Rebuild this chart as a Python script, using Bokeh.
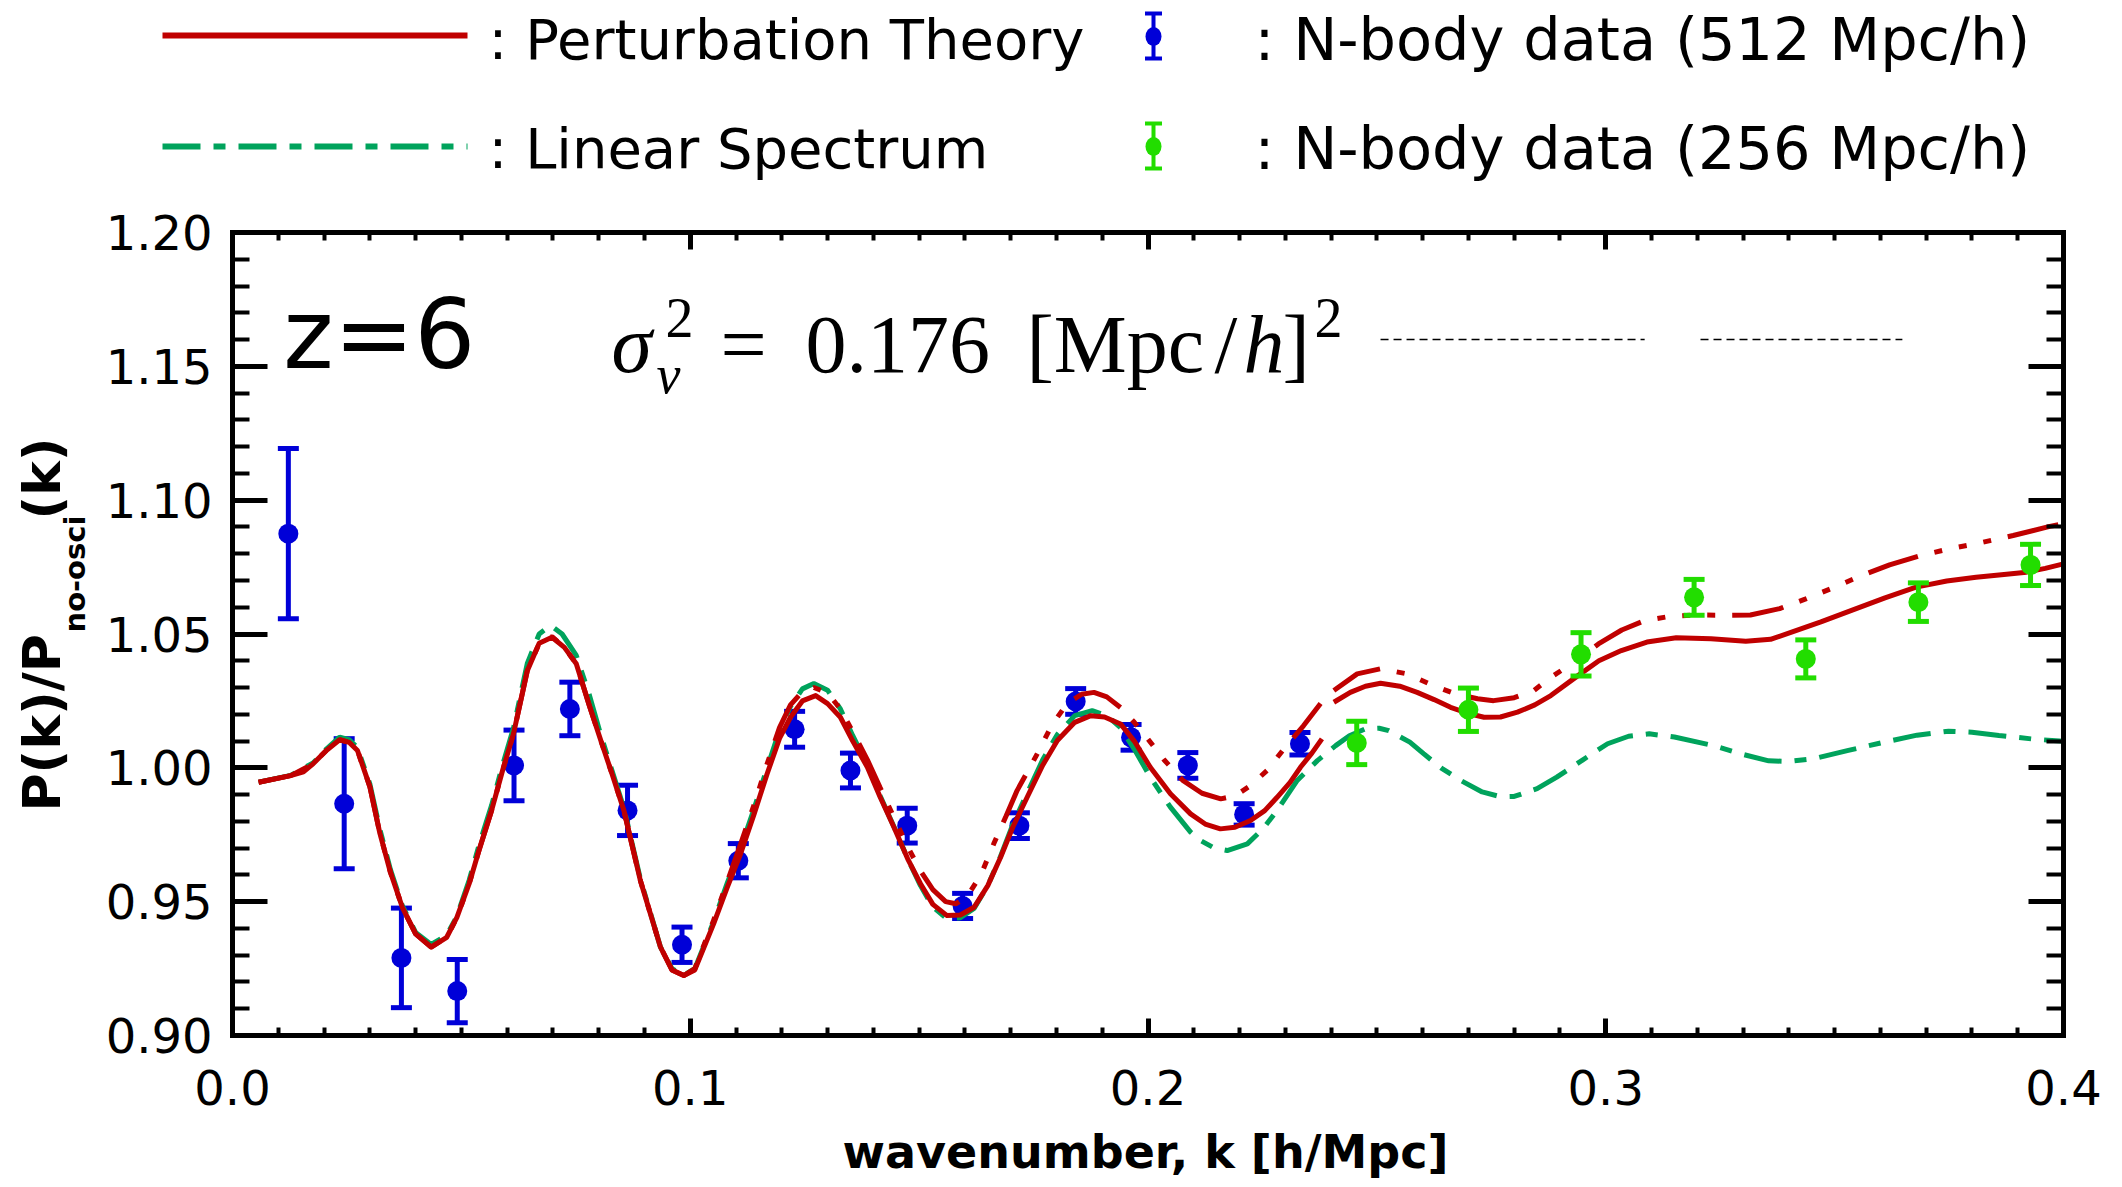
import math
from bokeh.plotting import figure
from bokeh.models import Range1d, LinearAxis, FixedTicker, Label, PrintfTickFormatter, CustomJSTickFormatter
from bokeh.layouts import column, row
from bokeh.core.properties import value
from bokeh.embed import file_html
from bokeh.resources import INLINE

# ---------------- data ----------------
# N-body 512 Mpc/h
k512 = [0.0122, 0.0244, 0.0369, 0.0491, 0.0615, 0.0737, 0.0863, 0.0982, 0.1105, 0.1228,
        0.1350, 0.1474, 0.1595, 0.1719, 0.1842, 0.1963, 0.2087, 0.2210, 0.2332]
r512 = [1.0875, 0.9866, 0.9290, 0.9166, 1.0009, 1.0220, 0.9841, 0.9339, 0.9653, 1.0144,
        0.9990, 0.9784, 0.9484, 0.9784, 1.0248, 1.0114, 1.0009, 0.9826, 1.0090]
e512 = [0.0318, 0.0243, 0.0186, 0.0118, 0.0132, 0.0100, 0.0094, 0.0066, 0.0064, 0.0067,
        0.0065, 0.0065, 0.0047, 0.0048, 0.0048, 0.0048, 0.0048, 0.0040, 0.0042]

# N-body 256 Mpc/h
k256 = [0.2456, 0.2700, 0.2946, 0.3193, 0.3437, 0.3683, 0.3928]
r256 = [1.0093, 1.0217, 1.0424, 1.0637, 1.0407, 1.0619, 1.0758]
e256 = [0.0081, 0.0081, 0.0081, 0.0067, 0.0071, 0.0072, 0.0077]

# Perturbation theory (solid), 512 box part and 256 box part
k_pt_a = [0.0057, 0.0127, 0.0155, 0.0176, 0.0205, 0.0234, 0.0255, 0.0273, 0.0300, 0.0322,
          0.0345, 0.0371, 0.0400, 0.0434, 0.0468, 0.0490, 0.0517, 0.0540, 0.0566, 0.0590,
          0.0614, 0.0644, 0.0670, 0.0698, 0.0725, 0.0751, 0.0780, 0.0805, 0.0829, 0.0855,
          0.0891, 0.0935, 0.0960, 0.0986, 0.1010, 0.1051, 0.1081, 0.1110, 0.1140, 0.1168,
          0.1195, 0.1219, 0.1245, 0.1274, 0.1300, 0.1328, 0.1355, 0.1387, 0.1415, 0.1445,
          0.1475, 0.1503, 0.1530, 0.1561, 0.1590, 0.1620, 0.1650, 0.1678, 0.1705, 0.1736,
          0.1770, 0.1802, 0.1840, 0.1875, 0.1905, 0.1940, 0.1970, 0.2005, 0.2049, 0.2093,
          0.2125, 0.2158, 0.2190, 0.2224, 0.2255, 0.2282, 0.2310, 0.2333, 0.2358, 0.2380]
pt_a = [0.9946, 0.9971, 0.9985, 1.0015, 1.0065, 1.0105, 1.0095, 1.0065, 0.9930, 0.9755,
        0.9610, 0.9479, 0.9380, 0.9330, 0.9367, 0.9440, 0.9567, 0.9700, 0.9841, 0.9990,
        1.0128, 1.0363, 1.0465, 1.0488, 1.0450, 1.0389, 1.0230, 1.0100, 0.9978, 0.9841,
        0.9579, 0.9330, 0.9245, 0.9224, 0.9245, 0.9417, 0.9554, 0.9679, 0.9830, 0.9978,
        1.0110, 1.0189, 1.0250, 1.0270, 1.0240, 1.0189, 1.0100, 1.0002, 0.9890, 0.9778,
        0.9660, 0.9567, 0.9490, 0.9448, 0.9450, 0.9479, 0.9560, 0.9666, 0.9780, 0.9890,
        1.0010, 1.0102, 1.0170, 1.0195, 1.0190, 1.0164, 1.0100, 1.0002, 0.9903, 0.9828,
        0.9790, 0.9772, 0.9778, 0.9803, 0.9840, 0.9890, 0.9945, 1.0002, 1.0055, 1.0108]
k_pt_b = [0.2406, 0.2442, 0.2475, 0.2508, 0.2550, 0.2588, 0.2625, 0.2661, 0.2700, 0.2734,
          0.2770, 0.2807, 0.2845, 0.2880, 0.2934, 0.2985, 0.3034, 0.3090, 0.3154, 0.3230,
          0.3306, 0.3360, 0.3406, 0.3470, 0.3537, 0.3610, 0.3678, 0.3745, 0.3809, 0.3870,
          0.3919, 0.3960, 0.4000]
pt_b = [1.0245, 1.0282, 1.0305, 1.0316, 1.0305, 1.0282, 1.0255, 1.0226, 1.0203, 1.0189,
        1.0190, 1.0208, 1.0235, 1.0270, 1.0338, 1.0400, 1.0438, 1.0470, 1.0486, 1.0482,
        1.0473, 1.0480, 1.0507, 1.0545, 1.0588, 1.0635, 1.0675, 1.0698, 1.0712, 1.0722,
        1.0731, 1.0745, 1.0762]

# second perturbation-theory curve (dash-dot-dot-dot, red)
k_pt2_a = [0.0057, 0.0127, 0.0176, 0.0205, 0.0234, 0.0255, 0.0273, 0.0300, 0.0322, 0.0345,
           0.0371, 0.0400, 0.0434, 0.0468, 0.0490, 0.0517, 0.0540, 0.0566, 0.0590, 0.0614,
           0.0644, 0.0670, 0.0698, 0.0725, 0.0751, 0.0780, 0.0805, 0.0829, 0.0855, 0.0891,
           0.0935, 0.0960, 0.0986, 0.1010, 0.1051, 0.1081, 0.1110, 0.1140, 0.1168, 0.1195,
           0.1219, 0.1245, 0.1270, 0.1300, 0.1328, 0.1355, 0.1387, 0.1415, 0.1445, 0.1475,
           0.1503, 0.1530, 0.1558, 0.1580, 0.1605, 0.1635, 0.1663, 0.1690, 0.1714, 0.1758,
           0.1790, 0.1823, 0.1855, 0.1882, 0.1910, 0.1940, 0.1970, 0.1997, 0.2035, 0.2076,
           0.2118, 0.2159, 0.2190, 0.2224, 0.2260, 0.2297, 0.2340, 0.2377]
pt2_a = [0.9946, 0.9971, 1.0015, 1.0065, 1.0105, 1.0095, 1.0065, 0.9930, 0.9755, 0.9610,
         0.9479, 0.9380, 0.9330, 0.9367, 0.9440, 0.9567, 0.9700, 0.9841, 0.9990, 1.0128,
         1.0363, 1.0465, 1.0490, 1.0450, 1.0389, 1.0230, 1.0100, 0.9978, 0.9841, 0.9579,
         0.9330, 0.9245, 0.9224, 0.9250, 0.9430, 0.9575, 0.9715, 0.9865, 1.0015, 1.0150,
         1.0235, 1.0285, 1.0300, 1.0280, 1.0220, 1.0135, 1.0030, 0.9925, 0.9815, 0.9705,
         0.9615, 0.9545, 0.9500, 0.9492, 0.9520, 0.9600, 0.9716, 0.9820, 0.9915, 1.0052,
         1.0160, 1.0239, 1.0275, 1.0282, 1.0265, 1.0225, 1.0170, 1.0114, 1.0030, 0.9953,
         0.9905, 0.9884, 0.9895, 0.9934, 0.9990, 1.0071, 1.0158, 1.0240]
k_pt2_b = [0.2406, 0.2457, 0.2508, 0.2566, 0.2624, 0.2672, 0.2720, 0.2755, 0.2800, 0.2843,
           0.2880, 0.2935, 0.2984, 0.3035, 0.3085, 0.3140, 0.3195, 0.3260, 0.3316, 0.3380,
           0.3437, 0.3500, 0.3558, 0.3620, 0.3688, 0.3750, 0.3809, 0.3890, 0.3970, 0.4000]
pt2_b = [1.0289, 1.0351, 1.0370, 1.0351, 1.0307, 1.0276, 1.0258, 1.0251, 1.0262, 1.0289,
         1.0338, 1.0400, 1.0463, 1.0515, 1.0550, 1.0566, 1.0571, 1.0570, 1.0571, 1.0595,
         1.0631, 1.0675, 1.0718, 1.0758, 1.0793, 1.0818, 1.0837, 1.0868, 1.0902, 1.0912]

# Linear spectrum (green dash-dot)
k_lin = [0.0057, 0.0127, 0.0176, 0.0205, 0.0234, 0.0255, 0.0273, 0.0300, 0.0322, 0.0345,
         0.0371, 0.0400, 0.0434, 0.0468, 0.0490, 0.0517, 0.0540, 0.0566, 0.0590, 0.0614,
         0.0644, 0.0670, 0.0695, 0.0720, 0.0751, 0.0780, 0.0805, 0.0829, 0.0855, 0.0891,
         0.0935, 0.0960, 0.0986, 0.1010, 0.1051, 0.1081, 0.1110, 0.1140, 0.1168, 0.1195,
         0.1219, 0.1245, 0.1270, 0.1300, 0.1328, 0.1355, 0.1387, 0.1415, 0.1445, 0.1475,
         0.1503, 0.1530, 0.1561, 0.1590, 0.1620, 0.1650, 0.1678, 0.1705, 0.1736, 0.1770,
         0.1802, 0.1840, 0.1878, 0.1910, 0.1940, 0.1970, 0.2005, 0.2049, 0.2093, 0.2115,
         0.2145, 0.2173, 0.2217, 0.2250, 0.2282, 0.2326, 0.2370, 0.2410, 0.2440, 0.2475,
         0.2505, 0.2526, 0.2572, 0.2602, 0.2640, 0.2683, 0.2730, 0.2770, 0.2800, 0.2850,
         0.2893, 0.2950, 0.3004, 0.3050, 0.3095, 0.3150, 0.3235, 0.3300, 0.3356, 0.3400,
         0.3457, 0.3530, 0.3608, 0.3680, 0.3749, 0.3800, 0.3859, 0.3930, 0.4000]
lin = [0.9946, 0.9972, 1.0018, 1.0070, 1.0115, 1.0105, 1.0075, 0.9940, 0.9770, 0.9620,
       0.9485, 0.9385, 0.9340, 0.9375, 0.9445, 0.9580, 0.9720, 0.9860, 1.0010, 1.0150,
       1.0390, 1.0500, 1.0532, 1.0500, 1.0420, 1.0270, 1.0120, 0.9990, 0.9850, 0.9585,
       0.9330, 0.9250, 0.9225, 0.9250, 0.9425, 0.9570, 0.9700, 0.9850, 1.0000, 1.0140,
       1.0230, 1.0295, 1.0315, 1.0290, 1.0220, 1.0120, 1.0010, 0.9895, 0.9780, 0.9660,
       0.9560, 0.9480, 0.9436, 0.9440, 0.9475, 0.9560, 0.9670, 0.9790, 0.9905, 1.0030,
       1.0125, 1.0195, 1.0214, 1.0195, 1.0150, 1.0070, 0.9965, 0.9853, 0.9760, 0.9728,
       0.9700, 0.9691, 0.9716, 0.9770, 0.9841, 0.9953, 1.0027, 1.0083, 1.0120, 1.0146,
       1.0148, 1.0139, 1.0096, 1.0053, 1.0000, 0.9953, 0.9910, 0.9892, 0.9893, 0.9922,
       0.9965, 1.0030, 1.0090, 1.0118, 1.0127, 1.0115, 1.0083, 1.0050, 1.0026, 1.0024,
       1.0035, 1.0065, 1.0096, 1.0122, 1.0137, 1.0133, 1.0121, 1.0108, 1.0099]

# thin black dashed strokes visible in the picture
k_guide0 = [0.2508, 0.3207]
k_guide1 = [0.3085, 0.3648]
y_guide = [1.1600, 1.1600]

x_major = [0.0, 0.1, 0.2, 0.3, 0.4]
x_minor = [round(0.01 * i, 2) for i in range(41)]
y_major = [0.90, 0.95, 1.00, 1.05, 1.10, 1.15, 1.20]
y_minor = [round(0.90 + 0.01 * i, 2) for i in range(31)]

legend_pt = [": Perturbation Theory", ": Linear Spectrum"]
legend_nb = [": N-body data (512 Mpc/h)", ": N-body data (256 Mpc/h)"]
x_title = "wavenumber, k [h/Mpc]"
y_title_parts = ["P(k)/P", "no-osci", "(k)"]

# ---------------- style ----------------
RED = "#c00000"
LGREEN = "#00a35c"
BLUE = "#0000d8"
PGREEN = "#22dd00"
FONT = "DejaVu Sans"
SERIF = "Liberation Serif"
DASHDOT = "38 13 12 13"
DASH3DOT = "52 17 8 17 8 17 8 17"

TOTAL_W = 2121
YLAB_W = 100
MAIN_W = TOTAL_W - YLAB_W
LEG_H = 200
MAIN_H = 925
XLAB_H = 61


def no_align(fig):
    try:
        fig.frame_align = False
    except Exception:
        pass


def blank(fig):
    fig.outline_line_color = None
    fig.xgrid.visible = False
    fig.ygrid.visible = False
    fig.background_fill_color = "white"
    fig.border_fill_color = "white"


# ---------------- main figure ----------------
p = figure(width=MAIN_W, height=MAIN_H, x_range=Range1d(0.0, 0.4), y_range=Range1d(0.90, 1.20),
           output_backend="svg", toolbar_location=None,
           min_border_left=132, min_border_right=58, min_border_top=32, min_border_bottom=90)
p.xgrid.visible = False
p.ygrid.visible = False
p.outline_line_color = "black"
p.outline_line_width = 5
p.background_fill_color = "white"
p.border_fill_color = "white"

xt = FixedTicker(ticks=x_major, minor_ticks=x_minor)
yt = FixedTicker(ticks=y_major, minor_ticks=y_minor)


def style(ax, major_in, minor_in, size="48px"):
    ax.axis_line_width = 5
    ax.axis_line_color = "black"
    ax.axis_line_cap = "square"
    ax.major_tick_in = major_in
    ax.major_tick_out = 0
    ax.minor_tick_in = minor_in
    ax.minor_tick_out = 0
    ax.major_tick_line_width = 5
    ax.minor_tick_line_width = 4
    ax.major_tick_line_color = "black"
    ax.minor_tick_line_color = "black"
    ax.major_label_text_font = FONT
    ax.major_label_text_font_size = size
    ax.major_label_text_color = "black"


xb = p.xaxis[0]
xb.ticker = xt
xb.formatter = PrintfTickFormatter(format="%.1f")
style(xb, 17, 8, "48px")
xb.major_label_standoff = 34

yl = p.yaxis[0]
yl.ticker = yt
yl.formatter = PrintfTickFormatter(format="%.2f")
style(yl, 35, 17)
yl.major_label_standoff = 20

xtop = LinearAxis(ticker=xt, formatter=CustomJSTickFormatter(code="return ''"))
style(xtop, 17, 8)
xtop.major_label_text_font_size = "0px"
xtop.major_label_standoff = 0
p.add_layout(xtop, "above")

yr = LinearAxis(ticker=yt, formatter=CustomJSTickFormatter(code="return ''"))
style(yr, 35, 17)
yr.major_label_text_font_size = "0px"
yr.major_label_standoff = 0
p.add_layout(yr, "right")

# error bars, 512 box
lo512 = [r - e for r, e in zip(r512, e512)]
hi512 = [r + e for r, e in zip(r512, e512)]
p.segment(x0=k512, y0=lo512, x1=k512, y1=hi512, line_color=BLUE, line_width=5)
p.rect(x=k512, y=lo512, width=21, height=5, width_units="screen", height_units="screen",
       fill_color=BLUE, line_color=None)
p.rect(x=k512, y=hi512, width=21, height=5, width_units="screen", height_units="screen",
       fill_color=BLUE, line_color=None)
p.scatter(x=k512, y=r512, size=20, marker="circle", fill_color=BLUE, line_color=None)

# curves
p.line(k_lin, lin, line_color=LGREEN, line_width=5, line_dash=DASHDOT)
p.line(k_pt2_a, pt2_a, line_color=RED, line_width=5, line_dash=DASH3DOT)
p.line(k_pt2_b, pt2_b, line_color=RED, line_width=5, line_dash=DASH3DOT)
p.line(k_pt_a, pt_a, line_color=RED, line_width=5, line_join="round")
p.line(k_pt_b, pt_b, line_color=RED, line_width=5, line_join="round")

# error bars, 256 box
lo256 = [r - e for r, e in zip(r256, e256)]
hi256 = [r + e for r, e in zip(r256, e256)]
p.segment(x0=k256, y0=lo256, x1=k256, y1=hi256, line_color=PGREEN, line_width=5)
p.rect(x=k256, y=lo256, width=21, height=5, width_units="screen", height_units="screen",
       fill_color=PGREEN, line_color=None)
p.rect(x=k256, y=hi256, width=21, height=5, width_units="screen", height_units="screen",
       fill_color=PGREEN, line_color=None)
p.scatter(x=k256, y=r256, size=20, marker="circle", fill_color=PGREEN, line_color=None)

# thin dashed strokes
p.segment(x0=k_guide0, y0=y_guide, x1=k_guide1, y1=y_guide, line_color="black",
          line_width=1.5, line_dash="8 5")

# in-frame annotations
p.add_layout(Label(x=0.0111, y=1.1617, text="z=6", text_font=FONT, text_font_size="96px",
                   text_baseline="alphabetic", text_align="left", text_color="black"))


def tex(x, y, t, size, style="normal"):
    p.add_layout(Label(x=x, y=y, text=t, text_font=SERIF, text_font_size=size,
                       text_font_style=style, text_baseline="alphabetic",
                       text_align="left", text_color="black"))


tex(0.08280, 1.15804, "σ", "82px", "italic")
tex(0.09459, 1.16809, "2", "56px")
tex(0.09263, 1.14691, "v", "54px", "italic")
tex(0.10661, 1.15804, "=", "82px")
tex(0.12518, 1.15804, "0.176", "82px")
tex(0.17346, 1.15804, "[Mpc", "82px")
tex(0.21453, 1.15804, "/", "82px")
tex(0.22085, 1.15804, "h", "82px", "italic")
tex(0.22939, 1.15804, "]", "82px")
tex(0.23637, 1.16809, "2", "56px")

# ---------------- y-title figure (left strip) ----------------
ylab = figure(width=YLAB_W, height=MAIN_H, x_range=Range1d(0, YLAB_W), y_range=Range1d(MAIN_H, 0),
              output_backend="svg", toolbar_location=None,
              x_axis_location=None, y_axis_location=None, min_border=0)
blank(ylab)
no_align(ylab)
ylab.text(x=[41, 74, 41], y=[611, 432, 319], text=y_title_parts,
          text_font=value(FONT), text_font_size=["52px", "29px", "52px"],
          text_font_style="bold", angle=math.pi / 2, text_color="black",
          text_align="left", text_baseline="alphabetic")

# ---------------- x-title figure (bottom strip) ----------------
xlab = figure(width=TOTAL_W, height=XLAB_H, x_range=Range1d(0, TOTAL_W), y_range=Range1d(XLAB_H, 0),
              output_backend="svg", toolbar_location=None,
              x_axis_location=None, y_axis_location=None, min_border=0)
blank(xlab)
no_align(xlab)
xlab.text(x=[1145], y=[26], text=[x_title], text_font=value(FONT), text_font_size=value("46px"),
          text_font_style="bold", text_color="black", text_align="center",
          text_baseline="alphabetic")

# ---------------- legend figure (top strip) ----------------
leg = figure(width=TOTAL_W, height=LEG_H, x_range=Range1d(0, TOTAL_W), y_range=Range1d(LEG_H, 0),
             output_backend="svg", toolbar_location=None,
             x_axis_location=None, y_axis_location=None, min_border=0)
blank(leg)
no_align(leg)

leg.line([162, 467], [35, 35], line_color=RED, line_width=6)
leg.line([162, 467], [146, 146], line_color=LGREEN, line_width=6, line_dash=DASHDOT)

for yc, col in [(36, BLUE), (146, PGREEN)]:
    leg.segment(x0=[1153], y0=[yc - 23], x1=[1153], y1=[yc + 22], line_color=col, line_width=4)
    leg.rect(x=[1153, 1153], y=[yc - 23, yc + 22], width=17, height=4, width_units="screen",
             height_units="screen", fill_color=col, line_color=None)
    leg.ellipse(x=[1153], y=[yc], width=16, height=19, width_units="screen",
                height_units="screen", fill_color=col, line_color=None)

leg.text(x=[488, 488], y=[39, 148], text=legend_pt,
         text_font=value(FONT), text_font_size=value("56px"), text_color="black",
         text_baseline="alphabetic", text_align="left")
leg.text(x=[1254, 1254], y=[39, 148], text=legend_nb,
         text_font=value(FONT), text_font_size=value("59px"), text_color="black",
         text_baseline="alphabetic", text_align="left")

layout = column(leg, row(ylab, p), xlab)
open("out.html", "w").write(file_html(layout, INLINE))
